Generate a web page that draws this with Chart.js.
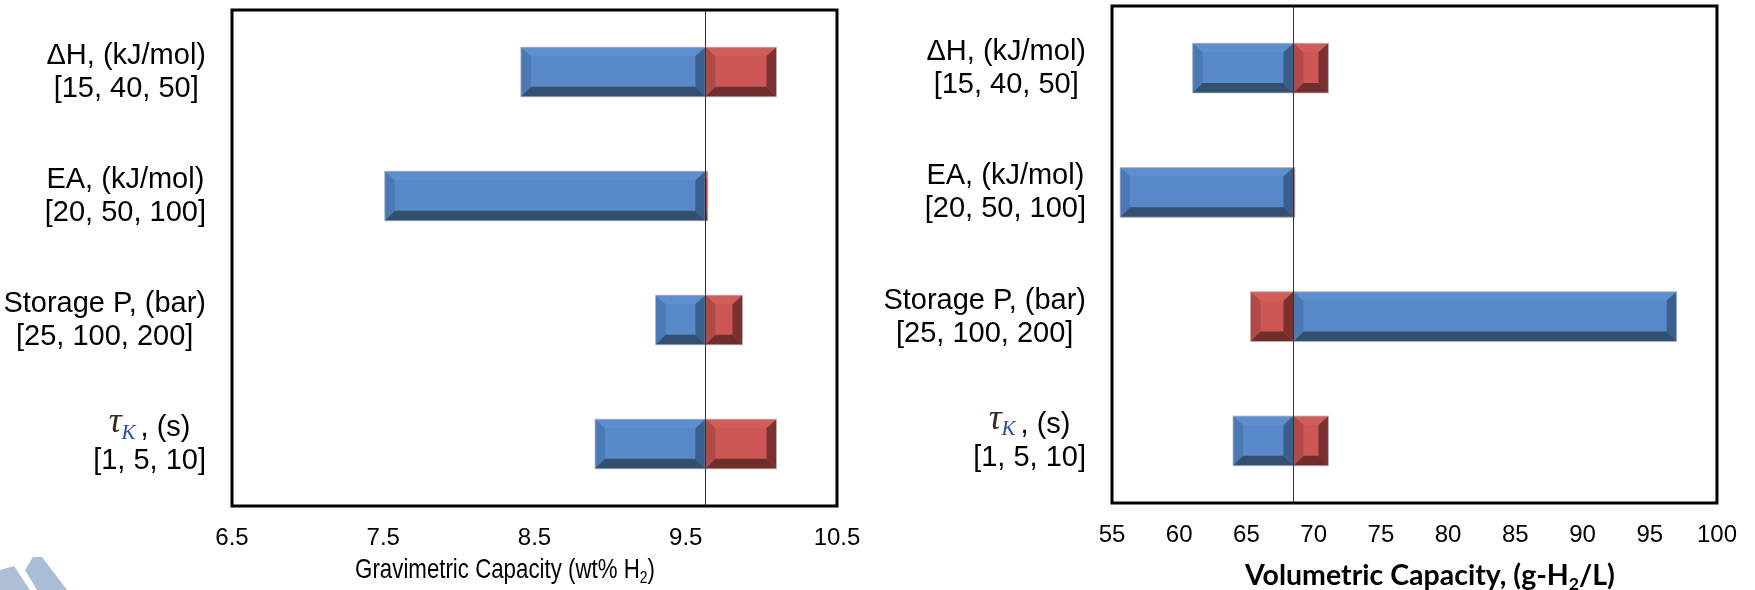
<!DOCTYPE html>
<html>
<head>
<meta charset="utf-8">
<script src="https://cdn.jsdelivr.net/npm/chart.js@4"></script>
<style>
  body { margin: 0; background: #fff; width: 1755px; height: 590px; position: relative; overflow: hidden;
         font-family: "Liberation Sans", Arial, sans-serif; color: #000; }
  .panel { position: absolute; top: 0; }
  .xtitle { position: absolute; white-space: nowrap; transform: translateX(-50%); line-height: 1; }
  .xtitle sub { font-size: 0.62em; vertical-align: -0.3em; line-height: 0; }
  #logo { position: absolute; left: 0; top: 550px; }
</style>
</head>
<body>
<div class="panel" style="left:0"><canvas id="gravChart" width="880" height="590"></canvas></div>
<div class="panel" style="left:880px"><canvas id="volChart" width="875" height="590"></canvas></div>
<div class="xtitle" style="left:505px; top:555px; font-size:27.5px; transform: translateX(-50%) scaleX(0.81);">Gravimetric Capacity (wt% H<sub>2</sub>)</div>
<div class="xtitle" style="left:1430px; top:557px; font: bold 28.5px Lato, sans-serif;">Volumetric Capacity, (g-H<sub>2</sub>/L)</div>
<svg id="logo" width="80" height="40">
  <polygon points="0,20 14,16 30,40 0,40" fill="#aebfd6"/>
  <polygon points="25,20 33,7 42,7 67,40 37,40" fill="#a9bdd6"/>
</svg>
<script>
// categories
const paramNames = ['ΔH, (kJ/mol)', 'EA, (kJ/mol)', 'Storage P, (bar)', 'τK, (s)'];
const paramRanges = ['[15, 40, 50]', '[20, 50, 100]', '[25, 100, 200]', '[1, 5, 10]'];

// gravimetric capacity (wt% H2)
const gravBase = 9.63;
const gravBlue = [8.41, 7.51, 9.30, 8.90];
const gravRed = [10.10, 9.645, 9.875, 10.10];
const gravTicks = [6.5, 7.5, 8.5, 9.5, 10.5];

// volumetric capacity (g-H2/L)
const volBase = 68.5;
const volBlue = [61.0, 55.6, 97.0, 64.0];
const volRed = [71.1, 68.6, 65.3, 71.1];
const volTicks = [55, 60, 65, 70, 75, 80, 85, 90, 95, 100];

const blueFaces = { main: '#5889c9', top: '#5d8ecd', left: '#4a79b6', right: '#3b5f8d', bottom: '#34506f' };
const redFaces = { main: '#cd5755', top: '#d05d5a', left: '#b04a48', right: '#7c3131', bottom: '#6f2e2d' };

function drawBevel(ctx, l, r, t, b, faces) {
    const w = r - l;
    const e = Math.min(10, w / 2);
    const et = Math.min(9, (b - t) / 2);
    const eb = Math.min(10, (b - t) / 2);
    const poly = (pts, col) => {
        ctx.beginPath();
        ctx.moveTo(pts[0][0], pts[0][1]);
        for (let i = 1; i < pts.length; i++) ctx.lineTo(pts[i][0], pts[i][1]);
        ctx.closePath();
        ctx.fillStyle = col;
        ctx.fill();
    };
    poly([[l, t], [r, t], [r - e, t + et], [l + e, t + et]], faces.top);
    poly([[l, t], [l + e, t + et], [l + e, b - eb], [l, b]], faces.left);
    poly([[r, t], [r - e, t + et], [r - e, b - eb], [r, b]], faces.right);
    poly([[l, b], [l + e, b - eb], [r - e, b - eb], [r, b]], faces.bottom);
    ctx.strokeStyle = 'rgba(190,190,190,0.8)';
    ctx.lineWidth = 1;
    ctx.strokeRect(l, t, w, b - t);
}

const panelPlugin = {
    id: 'panel',
    afterDatasetsDraw(chart, args, opts) {
        const ctx = chart.ctx;
        ctx.save();
        chart.data.datasets.forEach((ds, di) => {
            const faces = di === 0 ? blueFaces : redFaces;
            chart.getDatasetMeta(di).data.forEach(bar => {
                const p = bar.getProps(['x', 'y', 'base', 'height'], true);
                drawBevel(ctx, Math.min(p.x, p.base), Math.max(p.x, p.base),
                    p.y - p.height / 2, p.y + p.height / 2, faces);
            });
        });
        const area = chart.chartArea;
        const bx = Math.round(chart.scales.x.getPixelForValue(opts.base)) + 0.5;
        ctx.strokeStyle = '#333';
        ctx.lineWidth = 1;
        ctx.beginPath();
        ctx.moveTo(bx, area.top);
        ctx.lineTo(bx, area.bottom);
        ctx.stroke();
        ctx.restore();
    },
    afterDraw(chart) {
        const ctx = chart.ctx;
        const area = chart.chartArea;
        ctx.save();
        ctx.strokeStyle = '#000';
        ctx.lineWidth = 3;
        ctx.strokeRect(area.left, area.top, area.right - area.left, area.bottom - area.top);

        // category labels, centred blocks right-aligned to the axis
        const sans = '29px "Liberation Sans", Arial, sans-serif';
        const rightEdge = area.left - 26;
        ctx.fillStyle = '#000';
        ctx.textBaseline = 'middle';
        paramNames.forEach((name, i) => {
            const y = chart.scales.y.getPixelForValue(i);
            ctx.font = sans;
            const w2 = ctx.measureText(paramRanges[i]).width;
            let w1, parts = null;
            if (name.startsWith('τK')) {
                const rest = name.slice(2);
                parts = [
                    { t: 'τ', f: 'italic 36px "Liberation Serif", serif', c: '#3a2a1c', dy: -5, gap: 0 },
                    { t: 'K', f: 'italic 21px "Liberation Serif", serif', c: '#2b4b9b', dy: 5, gap: 5 },
                    { t: rest, f: sans, c: '#000', dy: 0, gap: 0 }
                ];
                w1 = 0;
                parts.forEach(pt => { ctx.font = pt.f; pt.w = ctx.measureText(pt.t).width + pt.gap; w1 += pt.w; });
            } else {
                w1 = ctx.measureText(name).width;
            }
            const cx = rightEdge - Math.max(w1, w2) / 2;
            ctx.textAlign = 'left';
            if (parts) {
                let x = cx - w1 / 2;
                parts.forEach(pt => {
                    ctx.font = pt.f;
                    ctx.fillStyle = pt.c;
                    ctx.fillText(pt.t, x, y - 16 + pt.dy);
                    x += pt.w;
                });
                ctx.fillStyle = '#000';
            } else {
                ctx.font = sans;
                ctx.fillText(name, cx - w1 / 2, y - 16);
            }
            ctx.font = sans;
            ctx.fillText(paramRanges[i], cx - w2 / 2, y + 17);
        });
        ctx.restore();
    }
};

function makeChart(id, base, blueEnds, redEnds, tickValues, pad, xAxisH) {
    return new Chart(document.getElementById(id), {
        type: 'bar',
        data: {
            labels: paramNames,
            datasets: [{
                label: 'low',
                data: blueEnds.map(v => [base, v]),
                backgroundColor: blueFaces.main,
                grouped: false,
                barPercentage: 0.4,
                categoryPercentage: 1,
                borderWidth: 0
            }, {
                label: 'high',
                data: redEnds.map(v => [base, v]),
                backgroundColor: redFaces.main,
                grouped: false,
                barPercentage: 0.4,
                categoryPercentage: 1,
                borderWidth: 0
            }]
        },
        options: {
            indexAxis: 'y',
            responsive: false,
            animation: false,
            layout: { padding: pad },
            plugins: {
                legend: { display: false },
                tooltip: { enabled: false },
                panel: { base: base }
            },
            scales: {
                x: {
                    type: 'linear',
                    min: tickValues[0],
                    max: tickValues[tickValues.length - 1],
                    afterBuildTicks: s => { s.ticks = tickValues.map(v => ({ value: v })); },
                    afterFit: s => { s.height = xAxisH; },
                    grid: { display: false, drawTicks: false },
                    border: { display: false },
                    ticks: {
                        color: '#000',
                        font: { family: 'Liberation Sans', size: 24 },
                        padding: 18,
                        maxRotation: 0,
                        autoSkip: false
                    }
                },
                y: {
                    afterFit: s => { s.width = 232; },
                    grid: { display: false, drawTicks: false },
                    border: { display: false },
                    ticks: { display: false }
                }
            }
        },
        plugins: [panelPlugin]
    });
}

makeChart('gravChart', gravBase, gravBlue, gravRed, gravTicks, { top: 10, right: 43, left: 0, bottom: 0 }, 84);
makeChart('volChart', volBase, volBlue, volRed, volTicks, { top: 6, right: 35, left: 0, bottom: 0 }, 87);
</script>
</body>
</html>
